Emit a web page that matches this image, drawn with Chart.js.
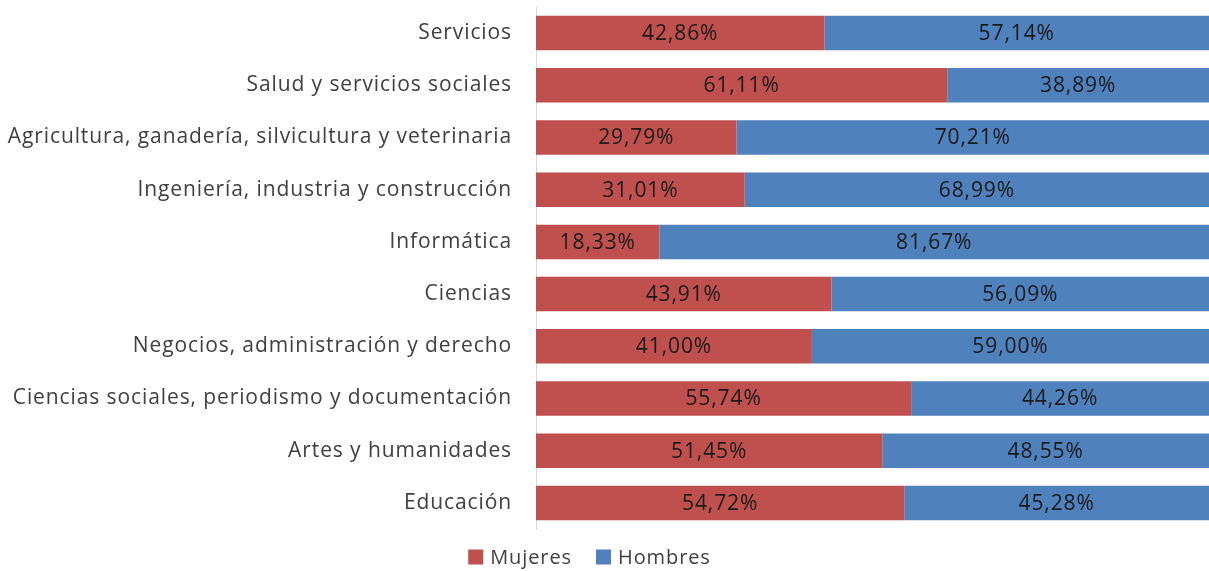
<!DOCTYPE html>
<html>
<head>
<meta charset="utf-8">
<script src="https://cdn.jsdelivr.net/npm/chart.js@4"></script>
<style>
  html, body { margin: 0; padding: 0; background: #fff; }
  #wrap { width: 1209px; height: 571px; }
</style>
</head>
<body>
<div id="wrap"><canvas id="chart" width="1209" height="571"></canvas></div>
<script>
const categories = [
  'Servicios',
  'Salud y servicios sociales',
  'Agricultura, ganadería, silvicultura y veterinaria',
  'Ingeniería, industria y construcción',
  'Informática',
  'Ciencias',
  'Negocios, administración y derecho',
  'Ciencias sociales, periodismo y documentación',
  'Artes y humanidades',
  'Educación'
];
const mujeres = [42.86, 61.11, 29.79, 31.01, 18.33, 43.91, 41.00, 55.74, 51.45, 54.72];
const hombres = [57.14, 38.89, 70.21, 68.99, 81.67, 56.09, 59.00, 44.26, 48.55, 45.28];

const colors = {
  mujeres: '#C0504D',
  hombres: '#4F81BD'
};

const fontFamily = '"Open Sans", Lato, sans-serif';
const spacing = '0.9px';

function formatPercent(value) {
  return value.toFixed(2).replace('.', ',') + '%';
}

// a bit of tracking so the text is as wide as the original
const tracking = {
  id: 'tracking',
  beforeDraw(chart) {
    chart.ctx.letterSpacing = spacing;
  }
};

// labels in the middle of each bar segment
const segmentLabels = {
  id: 'segmentLabels',
  afterDatasetsDraw(chart) {
    const ctx = chart.ctx;
    ctx.save();
    ctx.letterSpacing = spacing;
    ctx.font = `21px ${fontFamily}`;
    ctx.fillStyle = '#1a1a1a';
    ctx.textAlign = 'center';
    ctx.textBaseline = 'middle';
    chart.data.datasets.forEach((ds, i) => {
      chart.getDatasetMeta(i).data.forEach((bar, j) => {
        const left = Math.min(bar.x, bar.base);
        const right = Math.max(bar.x, bar.base);
        ctx.fillText(formatPercent(ds.data[j]), (left + right) / 2, bar.y + 1);
      });
    });
    ctx.restore();
  }
};

// legend drawn by hand so the spacing can match the original
const bottomLegend = {
  id: 'bottomLegend',
  afterDraw(chart) {
    const ctx = chart.ctx;
    ctx.save();
    ctx.letterSpacing = spacing;
    ctx.font = `20px ${fontFamily}`;
    ctx.textBaseline = 'middle';
    ctx.textAlign = 'left';
    const box = 15, gap = 7, between = 24;
    const items = chart.data.datasets.map(ds => ({
      text: ds.label,
      color: ds.backgroundColor,
      w: ctx.measureText(ds.label).width
    }));
    const total = items.reduce((s, it) => s + box + gap + it.w, 0) + between * (items.length - 1);
    let x = chart.width / 2 - 15 - total / 2;
    const y = chart.chartArea.bottom + 28;
    items.forEach(it => {
      ctx.fillStyle = it.color;
      ctx.fillRect(x, y - box / 2, box, box);
      ctx.fillStyle = '#404040';
      ctx.fillText(it.text, x + box + gap, y + 1);
      x += box + gap + it.w + between;
    });
    ctx.restore();
  }
};

new Chart(document.getElementById('chart'), {
  type: 'bar',
  data: {
    labels: categories,
    datasets: [
      {
        label: 'Mujeres',
        data: mujeres,
        backgroundColor: colors.mujeres,
        barPercentage: 0.66,
        categoryPercentage: 1
      },
      {
        label: 'Hombres',
        data: hombres,
        backgroundColor: colors.hombres,
        barPercentage: 0.66,
        categoryPercentage: 1
      }
    ]
  },
  options: {
    indexAxis: 'y',
    responsive: false,
    animation: false,
    layout: { padding: { top: 7, bottom: 42, left: 0, right: 0 } },
    scales: {
      x: {
        stacked: true,
        display: false,
        min: 0,
        max: 100
      },
      y: {
        stacked: true,
        grid: { display: false, drawTicks: false },
        border: { display: true, color: '#d9d9d9', width: 1 },
        ticks: {
          color: '#404040',
          padding: 24,
          font: { family: fontFamily, size: 21 }
        },
        afterFit(scale) {
          scale.width = 536;
          scale.paddingTop = 0;
          scale.paddingBottom = 0;
        }
      }
    },
    plugins: {
      legend: { display: false },
      tooltip: { enabled: false }
    }
  },
  plugins: [tracking, segmentLabels, bottomLegend]
});
</script>
</body>
</html>
